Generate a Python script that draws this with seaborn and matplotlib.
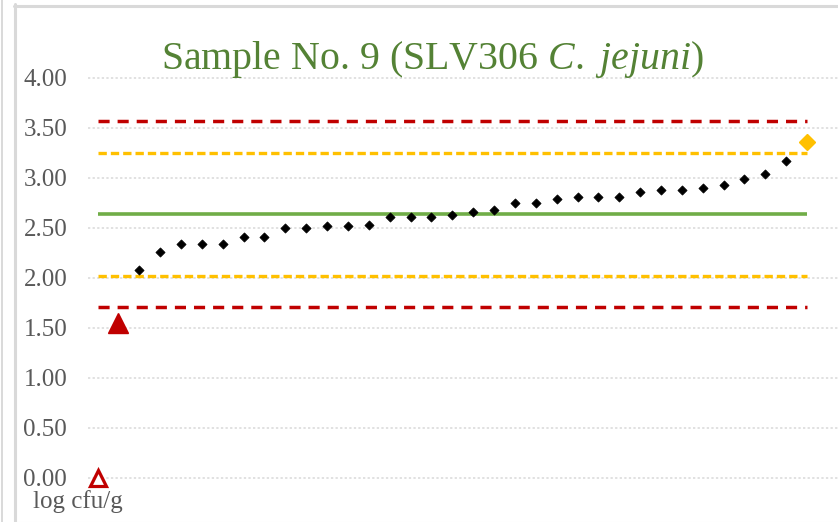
import numpy as np
import pandas as pd
import matplotlib
matplotlib.use("Agg")
import matplotlib.pyplot as plt
from matplotlib.lines import Line2D
import seaborn as sns

# ---- data -------------------------------------------------------------
lab_results = [2.08, 2.26, 2.34, 2.34, 2.34, 2.41, 2.41, 2.50, 2.50, 2.52,
               2.52, 2.53, 2.61, 2.61, 2.61, 2.63, 2.66, 2.68, 2.75, 2.75,
               2.79, 2.81, 2.81, 2.81, 2.86, 2.88, 2.88, 2.90, 2.93, 2.99,
               3.04, 3.17]
below_limit = [0.00]          # open triangle, first position
low_outlier = [1.55]          # filled triangle, second position
high_outlier = [3.36]         # orange diamond, last position
median_value = 2.64
warning_limits = [2.02, 3.25]
action_limits = [1.71, 3.57]
y_ticks = [0.0, 0.5, 1.0, 1.5, 2.0, 2.5, 3.0, 3.5, 4.0]
title_text = r"Sample No. 9 (SLV306 $\mathit{C.}$ $\mathit{jejuni}$)"
unit_text = "log cfu/g"

# ---- styling ----------------------------------------------------------
sns.set_theme(style="white")
plt.rcParams["font.family"] = ["Liberation Serif", "DejaVu Serif"]
plt.rcParams["mathtext.fontset"] = "custom"
plt.rcParams["mathtext.rm"] = "Liberation Serif"
plt.rcParams["mathtext.it"] = "Liberation Serif:italic"

RED = "#C00000"
ORANGE = "#FFC000"
GREEN = "#70AD47"
TITLE_GREEN = "#548235"
GRAY_TXT = "#595959"
GRID = "#D9D9D9"

W, H = 838, 522
fig = plt.figure(figsize=(W / 100, H / 100), dpi=100)

# axes placement in pixels
ax_left, ax_right, ax_top, ax_bottom = 88, 838, 40, 500
ax = fig.add_axes([ax_left / W, 1 - ax_bottom / H,
                   (ax_right - ax_left) / W, (ax_bottom - ax_top) / H])

n_total = len(lab_results) + 3
positions = np.arange(n_total)
df = pd.DataFrame({"pos": positions[2:2 + len(lab_results)],
                   "value": lab_results})

# reference lines spanning all positions
x0, x1 = positions[0], positions[-1]
for v in action_limits:
    ax.hlines(v, x0, x1, colors=RED, linewidth=2.5,
              linestyles=(0, (3.2, 2.3)), zorder=2)
for v in warning_limits:
    ax.hlines(v, x0, x1, colors=ORANGE, linewidth=2.4,
              linestyles=(0, (2.5, 1.2)), zorder=2)
ax.hlines(median_value, x0, x1, colors=GREEN, linewidth=2.6, zorder=2)

# results
sns.scatterplot(data=df, x="pos", y="value", marker="D", s=22,
                color="black", edgecolor="black", linewidth=0.5,
                ax=ax, zorder=4, legend=False)
ax.plot([positions[0]], below_limit, marker="^", ms=11.5, mfc="white",
        mec=RED, mew=2.3, ls="none", zorder=5, clip_on=False)
ax.plot([positions[1]], low_outlier, marker="^", ms=14.5, mfc=RED,
        mec=RED, ls="none", zorder=5)
ax.plot([positions[-1]], high_outlier, marker="D", ms=8.2, mfc=ORANGE,
        mec=ORANGE, ls="none", zorder=5, clip_on=False)

# axes scales: 20.87 px per position, 100 px per unit
step = 20.87
first_px = 97.5
ax.set_xlim((ax_left - first_px) / step, (ax_right - first_px) / step)
zero_px = 478
ax.set_ylim((zero_px - ax_bottom) / 100, (zero_px - ax_top) / 100)

ax.set_yticks(y_ticks)
ax.set_yticklabels([f"{t:.2f}" for t in y_ticks])
ax.set_xticks([])
ax.tick_params(axis="y", length=0, pad=15, labelsize=18, labelcolor=GRAY_TXT)
ax.set_xlabel("")
ax.set_ylabel("")
for sp in ax.spines.values():
    sp.set_visible(False)
ax.yaxis.grid(True, color=GRID, linewidth=1.1, linestyle=(0, (1.5, 1.5)))
ax.set_axisbelow(True)
ax.set_facecolor("none")

# title and unit label
fig.text(433 / W, 1 - 69 / H, title_text, ha="center", va="baseline",
         fontsize=28.7, color=TITLE_GREEN)
fig.text(33 / W, 1 - 508 / H, unit_text, ha="left", va="baseline",
         fontsize=18, color=GRAY_TXT)

# chart frame
frame_kw = dict(transform=fig.transFigure, color="#D9D9D9")
fig.add_artist(Line2D([1.5 / W, 1.5 / W], [0, 1], linewidth=1.4, **frame_kw))
fig.add_artist(Line2D([14.5 / W, 14.5 / W], [0, 1 - 4 / H], linewidth=2.2, **frame_kw))
fig.add_artist(Line2D([13.5 / W, 1], [1 - 5.5 / H, 1 - 5.5 / H], linewidth=2.2, **frame_kw))
fig.add_artist(Line2D([14.5 / W, 1], [0.5 / H, 0.5 / H], linewidth=0.8,
                      transform=fig.transFigure, color="#EDEDED"))

fig.savefig("out.png", dpi=100)
